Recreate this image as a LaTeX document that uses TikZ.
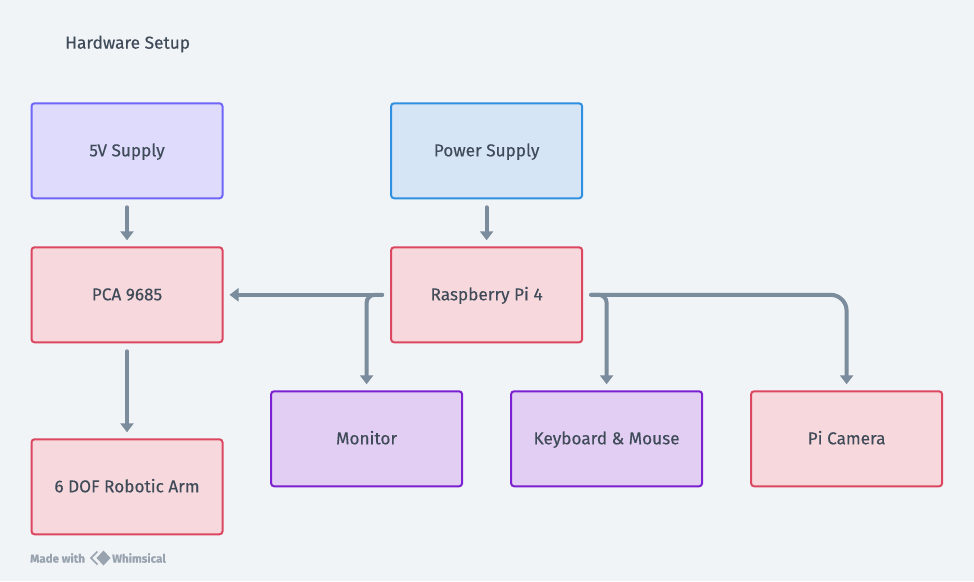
\documentclass[tikz,border=0pt]{standalone}
\usepackage{fontspec}
\setmainfont[FakeBold=0.25]{Fira Sans}
\usetikzlibrary{arrows.meta, positioning}
\definecolor{bgpage}{HTML}{F0F4F7}
\definecolor{inktext}{HTML}{3F4B58}
\definecolor{inkline}{HTML}{7B8C9C}
\definecolor{inkmark}{HTML}{98A3AF}
\definecolor{supplyfill}{HTML}{DEDBFD}
\definecolor{supplyline}{HTML}{6F66F8}
\definecolor{mainsfill}{HTML}{D5E5F6}
\definecolor{mainsline}{HTML}{2F8FE0}
\definecolor{boardfill}{HTML}{F7D9DD}
\definecolor{boardline}{HTML}{DC4660}
\definecolor{periphfill}{HTML}{E2CEF3}
\definecolor{periphline}{HTML}{7B1FD2}

\begin{document}
\begin{tikzpicture}[
    x=1pt, y=1pt,
    node distance=49pt and 168.6pt,
    % Box styling
    base/.style={
        draw,
        minimum width=191pt,
        minimum height=95pt,
        align=center,
        font=\fontsize{17.2}{20}\selectfont,
        text=inktext,
        text height=13pt,
        text depth=2pt,
        rounded corners=3pt,
        line width=2pt,
        outer sep=0pt
    },
    supply/.style={base, fill=supplyfill, draw=supplyline},
    mains/.style={base, fill=mainsfill, draw=mainsline},
    board/.style={base, fill=boardfill, draw=boardline},
    periph/.style={base, fill=periphfill, draw=periphline},
    % Connector styling
    link/.style={
        draw=inkline,
        line width=4pt,
        line cap=round,
        shorten <=9pt,
        shorten >=7pt,
        -{Triangle[width=13pt,length=9pt]}
    },
    % Typography helpers
    title_node/.style={font=\fontsize{17.3}{20}\selectfont, text=inktext, anchor=west},
    mark_node/.style={font=\fontsize{11.6}{14}\selectfont\bfseries, text=inkmark, anchor=west, inner sep=0pt}
]

    % Page
    \fill[bgpage] (0,0) rectangle (974,-581);
    \useasboundingbox (0,0) rectangle (974,-581);

    \node[title_node, inner sep=0pt] (title) at (65,-44) {Hardware Setup};

    % Left column
    \node[supply] (five) at (127,-150.8) {5V Supply};
    \node[board, below=of five] (pca) {PCA 9685};
    \node[board, below=97pt of pca] (arm) {6 DOF Robotic Arm};

    % Middle column
    \node[mains, right=of five] (power) {Power Supply};
    \node[board, below=of power] (pi) {Raspberry Pi 4};

    % Lower row
    \node[periph, below=of pi, xshift=-120pt] (monitor) {Monitor};
    \node[periph, below=of pi, xshift=120pt] (keys) {Keyboard \& Mouse};
    \node[board, below=of pi, xshift=360pt] (camera) {Pi Camera};

    % Connections
    \draw[link] (five) -- (pca);
    \draw[link] (pca) -- (arm);
    \draw[link] (power) -- (pi);
    \draw[link] (pi) -- (pca);
    \draw[link, rounded corners=8pt] (pi.west) -| (monitor.north);
    \draw[link, rounded corners=8pt] (pi.east) -| (keys.north);
    \draw[link, rounded corners=16pt] (pi.east) -| (camera.north);

    % Footer mark
    \node[mark_node] (made) at (30,-558) {Made with};
    \coordinate (logo) at (103.5,-558);
    \draw[inkmark, line width=1.6pt] (logo) ++(-6,-6.5) -- ++(-6.5,6.5) -- ++(6.5,6.5);
    \fill[inkmark] (logo) ++(0,-7.5) -- ++(7,7.5) -- ++(-7,7.5) -- ++(-7,-7.5) -- cycle;
    \node[mark_node] (brand) at (112,-558) {Whimsical};

\end{tikzpicture}
\end{document}
